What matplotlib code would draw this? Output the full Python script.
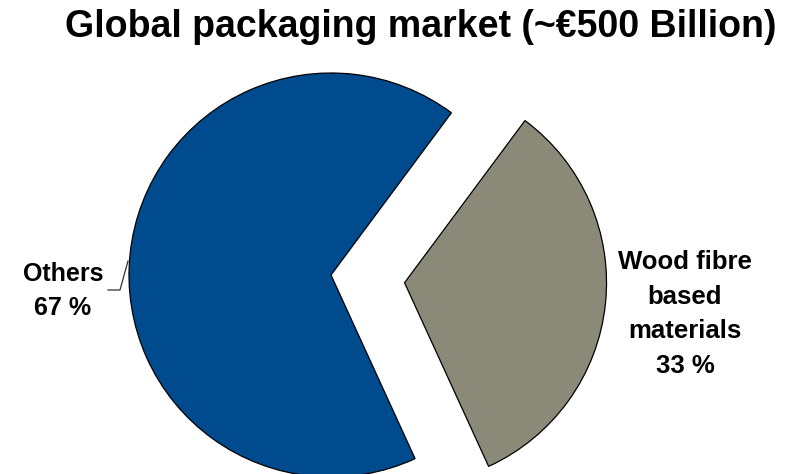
import matplotlib
matplotlib.use("Agg")
import matplotlib.pyplot as plt

# Market split
categories = ["Wood fibre\nbased\nmaterials", "Others"]
shares = [33, 67]
colors = ["#8B8978", "#004B8D"]
explode = [0.366, 0.0]

W, H, DPI = 791, 474, 100
fig = plt.figure(figsize=(W / DPI, H / DPI), dpi=DPI)
ax = fig.add_axes([0, 0, 1, 1])
plt.rcParams["font.family"] = ["Liberation Sans", "DejaVu Sans"]

# pie centre in pixels and radius in pixels
cx, cy, r = 331, 474 - 275, 202

start = -6.0 - shares[0] / 100 * 360 / 2
wedges, _ = ax.pie(shares, colors=colors, explode=explode, startangle=start,
                   counterclock=True, radius=1.0, center=(0, 0),
                   wedgeprops=dict(edgecolor="black", linewidth=0.9),
                   frame=True)
ax.set_xlim(-cx / r, (W - cx) / r)
ax.set_ylim(-cy / r, (H - cy) / r)
ax.set_aspect("equal")
ax.axis("off")


def px(x, y):
    return ((x - cx) / r, (H - y - cy) / r)


# labels
ax.text(*px(685, 314), f"{categories[0]}\n{shares[0]} %", ha="center", va="center",
        fontsize=18.5, fontweight="bold", linespacing=1.55)
ax.text(*px(63, 291), f"{categories[1]}\n{shares[1]} %", ha="center", va="center",
        fontsize=18, fontweight="bold", linespacing=1.5)

# leader line for "Others"
lx = [px(108, 290)[0], px(120, 290)[0], px(128, 261)[0]]
ly = [px(108, 290)[1], px(120, 290)[1], px(128, 261)[1]]
ax.plot(lx, ly, color="#333333", linewidth=0.9)

fig.text(421 / W, 1 - 27 / H, "Global packaging market (~€500 Billion)",
         ha="center", va="center", fontsize=27, fontweight="bold")

fig.savefig("out.png", dpi=DPI)
